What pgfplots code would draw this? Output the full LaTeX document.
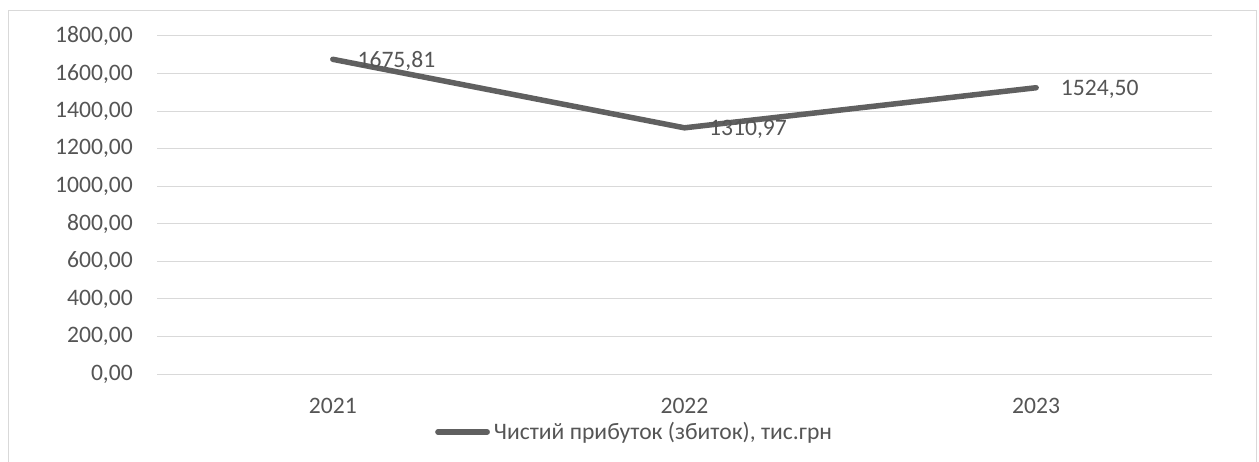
\documentclass[border=0pt]{standalone}
\usepackage{fontspec}
\setmainfont{Carlito}
\usepackage{pgfplots}
\pgfplotsset{compat=1.18}
\definecolor{txt}{HTML}{555555}
\definecolor{gridc}{HTML}{D9D9D9}
\definecolor{ln}{HTML}{606060}
\newcommand{\chartfont}{\fontsize{23.6}{28}\selectfont}

\begin{document}
\begin{tikzpicture}[x=1pt,y=1pt]
\useasboundingbox (0,0) rectangle (1259,461);
% chart area frame
\draw[gridc, line width=1pt] (8.5,-20) rectangle (1256.5,450.5);
\begin{axis}[
  at={(157pt,87pt)}, anchor=south west,
  scale only axis, width=1055pt, height=338pt,
  xmin=-0.5, xmax=2.5, ymin=0, ymax=1800,
  ytick distance=200,
  xtick={0,1,2}, xticklabels={2021,2022,2023},
  axis line style={draw=none}, major tick style={draw=none},
  ymajorgrids, grid style={gridc, line width=1pt},
  clip=false,
  tick label style={font=\chartfont, text=txt, inner sep=0pt},
  yticklabel style={anchor=east, xshift=-24pt,
    /pgf/number format/.cd, fixed, fixed zerofill, precision=2,
    use comma, 1000 sep={}, assume math mode=true},
  xticklabel style={anchor=base, yshift=-39pt},
  legend style={at={(0.2635,-0.1716)}, anchor=west, draw=none, fill=none,
    inner sep=0pt, font=\chartfont, text=txt,
    /tikz/every even column/.append style={column sep=0pt}},
  legend image code/.code={\draw[#1, line width=5.5pt, line cap=round] (2.75pt,0pt) -- (52pt,0pt);},
]
\addplot[ln, line width=5.5pt, line join=round, line cap=round, mark=none,
  nodes near coords,
  every node near coord/.append style={anchor=west, xshift=22pt, yshift=-2pt,
    inner sep=0pt, text=txt, font=\chartfont,
    /pgf/number format/.cd, fixed, fixed zerofill, precision=2,
    use comma, 1000 sep={}, assume math mode=true}]
  coordinates {(0,1675.81) (1,1310.97) (2,1524.50)};
\addlegendentry{\hspace{2pt}Чистий прибуток (збиток), тис.грн}
\end{axis}
\end{tikzpicture}
\end{document}
